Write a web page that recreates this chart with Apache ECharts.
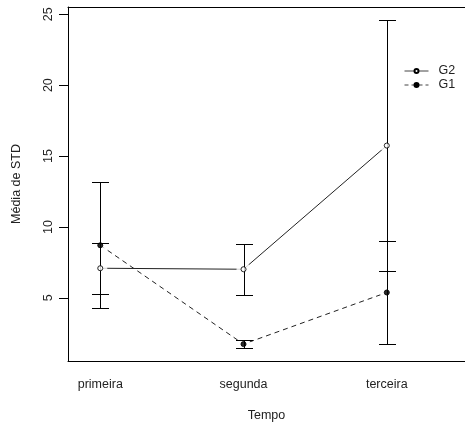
<!DOCTYPE html>
<html><head><meta charset="utf-8">
<script src="https://cdn.jsdelivr.net/npm/echarts@6/dist/echarts.min.js"></script>
<style>html,body{margin:0;padding:0;background:#fff}#c{width:465px;height:427px}</style>
</head><body><div id="c"></div>
<script>
const categories = ['primeira', 'segunda', 'terceira'];
const seriesNames = ['G2', 'G1'];
const g2Mean = [7.09, 7.02, 15.74];
const g2Err = [1.80, 1.81, 8.86];
const g1Mean = [8.71, 1.74, 5.38];
const g1Err = [4.43, 0.30, 3.62];
const yTicks = [5, 10, 15, 20, 25];

const FONT = 'Liberation Sans, Arial, sans-serif';
const pos = (arr) => arr.map((v, i) => [i + 1, v]);
const errData = (m, e) => m.map((v, i) => [i + 1, v - e[i], v + e[i]]);

function errRender(params, api) {
  const x = api.value(0), lo = api.value(1), hi = api.value(2);
  const p1 = api.coord([x, lo]), p2 = api.coord([x, hi]);
  const cx = Math.round(p1[0]) + 0.5;
  const yl = Math.round(p1[1]) + 0.5, yh = Math.round(p2[1]) + 0.5;
  const w = 8.5;
  const st = { stroke: '#000', lineWidth: 1 };
  return { type: 'group', children: [
    { type: 'line', shape: { x1: cx, y1: yl, x2: cx, y2: yh }, style: st },
    { type: 'line', shape: { x1: cx - w, y1: yl, x2: cx + w, y2: yl }, style: st },
    { type: 'line', shape: { x1: cx - w, y1: yh, x2: cx + w, y2: yh }, style: st }
  ]};
}

const chart = echarts.init(document.getElementById('c'), null, { renderer: 'canvas' });
const xMin = 0.7747, xMax = 3.546;
chart.setOption({
  animation: false,
  backgroundColor: '#fff',
  textStyle: { fontFamily: FONT },
  grid: { left: 68, top: 7, right: 0, bottom: 65 },
  legend: {
    left: 399, top: 59, orient: 'vertical', itemGap: 0,
    itemWidth: 24, itemHeight: 5,
    textStyle: { fontSize: 12.5, color: '#222', fontFamily: FONT, padding: [0, 0, 0, 5], lineHeight: 14 },
    data: [
      { name: 'G2', lineStyle: { width: 1, color: '#444', type: 'solid' } },
      { name: 'G1', lineStyle: { width: 1, color: '#444', type: [4, 3] } }
    ]
  },
  xAxis: [{
    type: 'value', min: xMin, max: xMax,
    axisLine: { show: true, onZero: false, lineStyle: { color: '#000', width: 1 } },
    axisTick: { show: false },
    splitLine: { show: false },
    axisLabel: { customValues: [1, 2, 3], formatter: v => categories[Math.round(v) - 1] || '',
      margin: 17, fontSize: 12.5, color: '#222', fontFamily: FONT },
    name: 'Tempo', nameLocation: 'middle', nameGap: 48,
    nameTextStyle: { fontSize: 12.5, color: '#222', fontFamily: FONT }
  }, {
    type: 'value', min: xMin, max: xMax, position: 'top',
    axisLine: { show: true, onZero: false, lineStyle: { color: '#000', width: 1 } },
    axisTick: { show: false }, axisLabel: { show: false }, splitLine: { show: false }
  }],
  yAxis: {
    type: 'value', min: 0.55, max: 25.51,
    axisLine: { show: true, onZero: false, lineStyle: { color: '#000', width: 1 } },
    axisTick: { show: true, length: 9, customValues: yTicks, lineStyle: { color: '#000' } },
    splitLine: { show: false },
    axisLabel: { customValues: yTicks, rotate: 90, margin: 13, fontSize: 12.5, color: '#222', fontFamily: FONT },
    name: 'Média de STD', nameLocation: 'middle', nameGap: 45, nameRotate: 90,
    nameTextStyle: { fontSize: 12.5, color: '#222', fontFamily: FONT }
  },
  series: [
    { name: 'G2', type: 'line', data: pos(g2Mean), z: 1,
      symbol: 'circle', symbolSize: 5,
      itemStyle: { color: '#fff', borderColor: '#000', borderWidth: 1 },
      lineStyle: { color: '#222', width: 1, type: 'solid' } },
    { name: 'G1', type: 'line', data: pos(g1Mean), z: 1,
      symbol: 'circle', symbolSize: 5,
      itemStyle: { color: '#000', borderColor: '#000', borderWidth: 1 },
      lineStyle: { color: '#222', width: 1, type: [5, 4] } },
    { type: 'scatter', data: pos(g2Mean).concat(pos(g1Mean)), z: 2, silent: true,
      symbol: 'circle', symbolSize: 14, itemStyle: { color: '#fff' } },
    { type: 'custom', data: errData(g2Mean, g2Err), renderItem: errRender, z: 3,
      encode: { x: 0, y: [1, 2] } },
    { type: 'custom', data: errData(g1Mean, g1Err), renderItem: errRender, z: 3,
      encode: { x: 0, y: [1, 2] } },
    { type: 'scatter', data: pos(g2Mean), z: 4, symbol: 'circle', symbolSize: 5,
      itemStyle: { color: '#fff', borderColor: '#000', borderWidth: 1 } },
    { type: 'scatter', data: pos(g1Mean), z: 4, symbol: 'circle', symbolSize: 5,
      itemStyle: { color: '#000', borderColor: '#000', borderWidth: 1 } }
  ]
});
</script></body></html>
